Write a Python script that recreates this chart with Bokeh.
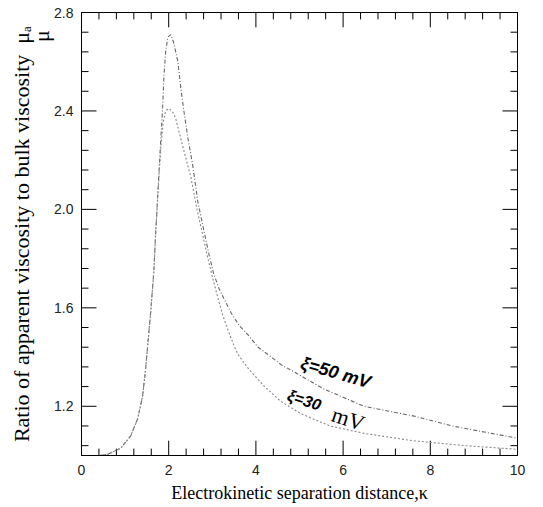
from bokeh.plotting import figure
from bokeh.models import Range1d, LinearAxis, FixedTicker, PrintfTickFormatter, Label
from bokeh.embed import file_html
from bokeh.resources import INLINE

# ---- data ----
kappa_50 = [0.40, 0.60, 0.90, 1.13, 1.29, 1.40, 1.47, 1.52, 1.59, 1.66, 1.70, 1.77, 1.82, 1.86,
            1.89, 1.93, 1.98, 2.05, 2.11, 2.21, 2.28, 2.34, 2.44, 2.55, 2.67, 2.80, 2.92, 3.03,
            3.15, 3.26, 3.43, 3.61, 3.82, 4.05, 4.28, 4.57, 4.97, 5.56, 6.48, 7.63, 8.50, 9.40, 10.0]
ratio_50 = [1.00, 1.005, 1.03, 1.08, 1.15, 1.24, 1.35, 1.45, 1.59, 1.75, 1.90, 2.13, 2.29, 2.41,
            2.54, 2.64, 2.70, 2.71, 2.68, 2.60, 2.49, 2.41, 2.29, 2.18, 2.03, 1.92, 1.82, 1.74,
            1.68, 1.64, 1.58, 1.53, 1.49, 1.44, 1.41, 1.37, 1.33, 1.27, 1.20, 1.16, 1.12, 1.09, 1.07]

kappa_30 = [0.40, 0.60, 0.90, 1.13, 1.29, 1.40, 1.47, 1.52, 1.59, 1.66, 1.70, 1.77, 1.82, 1.87,
            1.93, 2.00, 2.08, 2.16, 2.23, 2.39, 2.51, 2.65, 2.80, 2.90, 3.01, 3.13, 3.24, 3.38,
            3.49, 3.59, 3.84, 4.20, 4.57, 5.03, 5.70, 6.48, 7.60, 8.80, 10.0]
ratio_30 = [1.00, 1.005, 1.03, 1.08, 1.15, 1.24, 1.35, 1.45, 1.59, 1.75, 1.90, 2.11, 2.25, 2.35,
            2.40, 2.41, 2.40, 2.37, 2.32, 2.21, 2.13, 2.00, 1.88, 1.80, 1.72, 1.64, 1.57, 1.50,
            1.45, 1.41, 1.35, 1.28, 1.22, 1.17, 1.12, 1.09, 1.06, 1.04, 1.025]

x_major = [0, 2, 4, 6, 8, 10]
x_minor = [0.4, 0.8, 1.2, 1.6, 2.4, 2.8, 3.2, 3.6, 4.4, 4.8, 5.2, 5.6,
           6.4, 6.8, 7.2, 7.6, 8.4, 8.8, 9.2, 9.6]
y_major = [1.2, 1.6, 2.0, 2.4, 2.8]
y_minor = [1.04, 1.12, 1.28, 1.36, 1.44, 1.52, 1.68, 1.76, 1.84, 1.92,
           2.08, 2.16, 2.24, 2.32, 2.48, 2.56, 2.64, 2.72]
x_min, x_max = 0, 10
y_min, y_max = 1.0, 2.8

x_title = "Electrokinetic separation distance,\u03ba"
y_title = "Ratio of apparent viscosity to bulk viscosity"
mu_num = "\u03bc\u2090"
mu_den = "\u03bc"
label_50 = "\u03be=50 mV"
label_30a = "\u03be=30"
label_30b = "mV"

W, H = 527, 505
BL, BR, BT, BB = 81, 10, 12, 45
p = figure(width=W, height=H, output_backend="svg", toolbar_location=None,
           x_range=Range1d(x_min, x_max), y_range=Range1d(y_min, y_max),
           min_border_left=BL, min_border_right=BR, min_border_top=BT, min_border_bottom=BB)
p.grid.visible = False
p.outline_line_color = "black"
p.background_fill_color = None
p.border_fill_color = "white"

p.xaxis.ticker = FixedTicker(ticks=x_major, minor_ticks=x_minor)
p.yaxis.ticker = FixedTicker(ticks=y_major, minor_ticks=y_minor)
p.yaxis.formatter = PrintfTickFormatter(format="%.1f")

def style(ax, labels=True):
    ax.axis_line_color = "black"
    ax.axis_line_width = 1
    ax.major_tick_in = 0
    ax.major_tick_out = 0
    ax.minor_tick_in = 0
    ax.minor_tick_out = 0
    ax.major_label_text_font = "Liberation Sans"
    ax.major_label_text_font_size = "14px"
    ax.major_label_text_color = "#222222"
    ax.axis_label_text_font = "Liberation Serif"
    ax.axis_label_text_font_style = "normal"
    ax.axis_label_text_color = "black"
    if not labels:
        ax.major_label_text_alpha = 0
        ax.major_label_text_font_size = "1px"
        ax.major_label_standoff = 0

for ax in p.xaxis:
    style(ax)
    ax.major_label_standoff = 9
    ax.axis_label = x_title
    ax.axis_label_text_font_size = "18px"
    ax.axis_label_standoff = 5
for ax in p.yaxis:
    style(ax)
    ax.major_label_standoff = 8
    # line 1: title + numerator; line 2: denominator pushed to the top end
    ax.axis_label = y_title + "\u00a0\u00a0" + mu_num + "\n" + "\u00a0" * 72 + mu_den
    ax.axis_label_text_font_size = "22px"
    ax.axis_label_text_line_height = 0.8
    ax.axis_label_standoff = -3

top = LinearAxis(ticker=FixedTicker(ticks=x_major, minor_ticks=x_minor))
style(top, labels=False)
p.add_layout(top, "above")
right = LinearAxis(ticker=FixedTicker(ticks=y_major, minor_ticks=y_minor))
style(right, labels=False)
p.add_layout(right, "right")

# inward tick marks drawn as segments inside the frame
fw, fh = W - BL - BR, H - BT - BB
ux = (x_max - x_min) / fw      # data units per pixel
uy = (y_max - y_min) / fh
for xs, L in [(x_major, 15), (x_minor, 7)]:
    n = len(xs)
    p.segment(xs, [y_min] * n, xs, [y_min + L * uy] * n, line_color="black", line_width=1)
    p.segment(xs, [y_max] * n, xs, [y_max - L * uy] * n, line_color="black", line_width=1)
for ys, L in [(y_major, 15), (y_minor, 7)]:
    n = len(ys)
    p.segment([x_min] * n, ys, [x_min + L * ux] * n, ys, line_color="black", line_width=1)
    p.segment([x_max] * n, ys, [x_max - L * ux] * n, ys, line_color="black", line_width=1)

p.line(kappa_50, ratio_50, line_color="#666666", line_width=1.1, line_dash="4 2 1 2")
p.line(kappa_30, ratio_30, line_color="#888888", line_width=1.1, line_dash="2 2")

# curve labels
p.add_layout(Label(x=5.83, y=1.337, text=label_50, angle=-16, angle_units="deg",
                   text_font="Liberation Sans", text_font_style="bold italic",
                   text_font_size="18px", text_align="center", text_baseline="middle",
                   text_color="black"))
p.add_layout(Label(x=5.11, y=1.225, text=label_30a, angle=-18, angle_units="deg",
                   text_font="Liberation Sans", text_font_style="bold italic",
                   text_font_size="16px", text_align="center", text_baseline="middle",
                   text_color="black"))
p.add_layout(Label(x=6.12, y=1.149, text=label_30b, angle=-18, angle_units="deg",
                   text_font="Liberation Serif", text_font_style="normal",
                   text_font_size="22px", text_align="center", text_baseline="middle",
                   text_color="black"))

open("out.html", "w").write(file_html(p, INLINE))
